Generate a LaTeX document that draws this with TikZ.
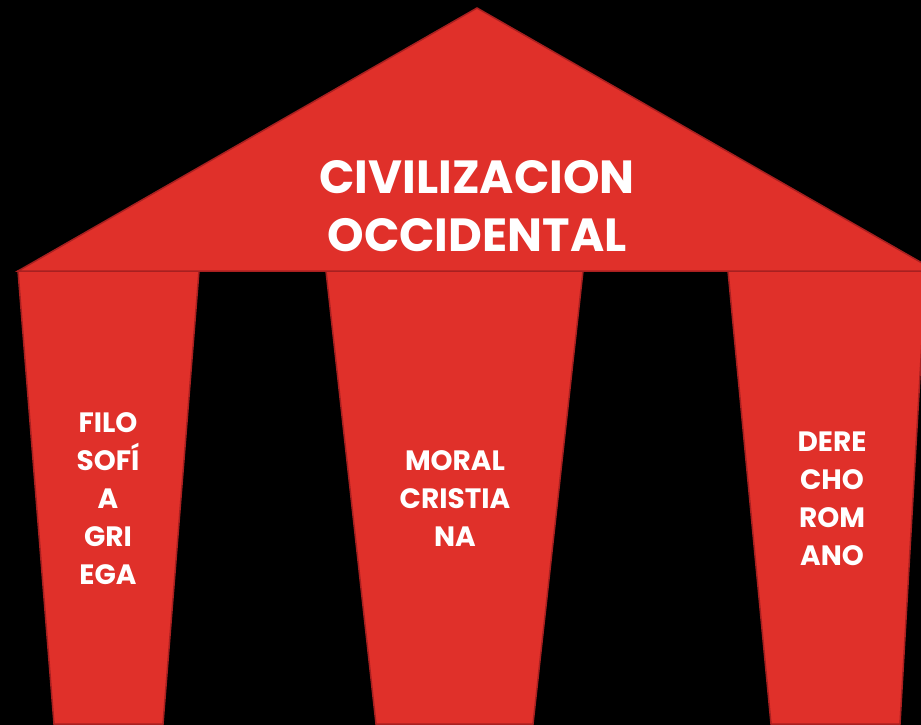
\documentclass[tikz,border=0pt]{standalone}
\usepackage{fontspec}
\setmainfont{Poppins}[BoldFont={Poppins Bold}]
\usetikzlibrary{positioning}

\definecolor{templered}{HTML}{E0302A}
\definecolor{templeedge}{HTML}{A82020}

\begin{document}
\begin{tikzpicture}[x=1pt,y=-1pt,
  part/.style={fill=templered,draw=templeedge,line width=1.5pt,line join=miter},
  title text/.style={text=white,align=center,font=\bfseries\fontsize{46.5}{58}\selectfont},
  pillar text/.style={text=white,align=center,font=\bfseries\fontsize{28}{38}\selectfont}]

  % background and frame
  \useasboundingbox (0,0) rectangle (921,725);
  \fill[black] (0,0) rectangle (921,725);
  \clip (0,0) rectangle (921,725);

  % pillars
  \draw[part] (18,271) -- (199,271) -- (163,724) -- (54,724) -- cycle;
  \draw[part] (326,271) -- (583,271) -- (533,724) -- (376,724) -- cycle;
  \draw[part] (728,271) -- (926,271) -- (900,724) -- (771,724) -- cycle;

  % roof
  \draw[part] (18,271) -- (477,8) -- (936,271) -- cycle;

  % texts
  \node[title text] (civ) at (477,206) {CIVILIZACION\\OCCIDENTAL};
  \node[pillar text] (filo) at (108,499) {FILO\\SOFÍ\\A\\GRI\\EGA};
  \node[pillar text] (moral) at (455,499) {MORAL\\CRISTIA\\NA};
  \node[pillar text] (derecho) at (832,499) {DERE\\CHO\\ROM\\ANO};
\end{tikzpicture}
\end{document}
